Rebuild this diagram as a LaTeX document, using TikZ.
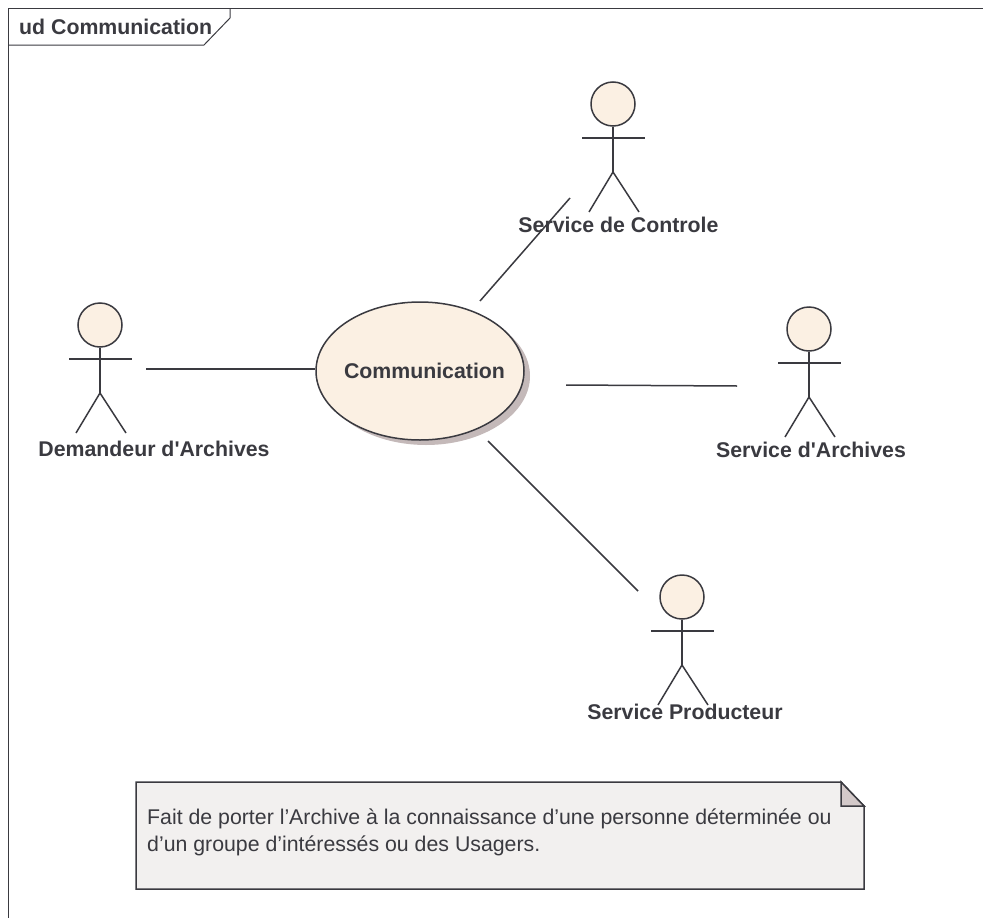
\documentclass[tikz,border=0pt]{standalone}
\usepackage{fontspec}
\setmainfont{Liberation Sans}
\usepackage{xcolor}
\usepackage{tikz}
\usetikzlibrary{shapes.geometric,positioning}
\definecolor{umlink}{HTML}{3A3A40}
\definecolor{umlcream}{HTML}{FBF0E3}
\definecolor{umlshadow}{HTML}{C4B9B9}
\definecolor{umlnote}{HTML}{F2F0EF}
\definecolor{umlfold}{HTML}{D3C9C9}
% stick figure: name, x, y of the head, position of the label, label
\newcommand{\actorfig}[5]{%
  \node[head] (#1) at (#2,#3) {};
  \coordinate (#1neck) at (#2,#3+34);
  \coordinate (#1hip) at (#2,#3+68);
  \draw[umlline] (#1.south) -- (#1hip);
  \draw[umlline] ([xshift=-31pt]#1neck) -- ([xshift=32pt]#1neck);
  \draw[umlline] ([xshift=-24pt,yshift=-40pt]#1hip) -- (#1hip) -- ([xshift=26pt,yshift=-40pt]#1hip);
  \node[actorlabel] (#1label) at (#4) {#5};
}

\begin{document}
\begin{tikzpicture}[
  x=1pt, y=-1pt,
  umlline/.style={draw=umlink, line width=1.5pt},
  head/.style={circle, draw=umlink, fill=umlcream, line width=1.5pt, minimum size=44pt, inner sep=0pt},
  actorlabel/.style={font=\fontsize{21.3}{25}\selectfont\bfseries, text=umlink, inner sep=0pt},
  usecase/.style={ellipse, draw=umlink, fill=umlcream, line width=1.5pt, minimum width=208pt, minimum height=138pt, inner sep=0pt},
  usecaseshadow/.style={ellipse, fill=umlshadow, minimum width=208pt, minimum height=138pt, inner sep=0pt},
  notetext/.style={font=\fontsize{21.3}{26.5}\selectfont, text=umlink, align=left, inner sep=0pt, anchor=north west}
]
\useasboundingbox (0,0) rectangle (983,918);

% Frame and its tab
\draw[draw=umlink, line width=1pt] (983,8) -- (8,8) -- (8,918);
\draw[draw=umlink, line width=1pt] (230,8) -- (230,18) -- (204,45) -- (8,45);
\node[actorlabel, anchor=west] (title) at (19,27) {ud Communication};

% Use case
\node[usecaseshadow] (commshadow) at (426,376) {};
\node[usecase] (comm) at (420,371) {};
\node[actorlabel] (commlabel) at (424.5,371) {Communication};

% Actors
\actorfig{control}{613}{104}{618.5,225}{Service de Controle}
\actorfig{demandeur}{100}{325}{154,449}{Demandeur d\textquotesingle Archives}
\actorfig{archives}{809}{329}{811,450}{Service d\textquotesingle Archives}
\actorfig{producteur}{682}{597}{685,712}{Service Producteur}

% Associations
\coordinate (demandeurend) at (146,369);
\coordinate (controlstart) at (480,301);
\coordinate (controlend) at (570,198);
\coordinate (archivesstart) at (566,385);
\coordinate (archivesend) at (737,386);
\coordinate (producteurstart) at (488,441);
\coordinate (producteurend) at (638,591);
\draw[umlline] (demandeurend) -- (demandeurend -| comm.west);
\draw[umlline] (controlstart) -- (controlend);
\draw[umlline] (archivesstart) -- (archivesend);
\draw[umlline] (producteurstart) -- (producteurend);

% Note
\draw[draw=umlink, fill=umlnote, line width=1.5pt] (136,782) -- (841,782) -- (864,806) -- (864,889) -- (136,889) -- cycle;
\draw[draw=umlink, fill=umlfold, line width=1.5pt] (841,782) -- (864,806) -- (841,806) -- cycle;
\node[notetext] (notebody) at (147,809) {Fait de porter l’Archive à la connaissance d’une personne déterminée ou\\d’un groupe d’intéressés ou des Usagers.};

\end{tikzpicture}
\end{document}
